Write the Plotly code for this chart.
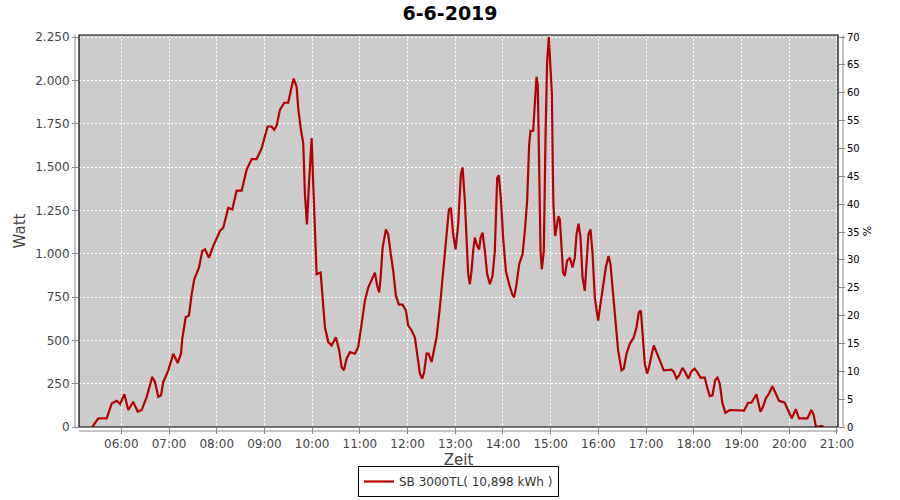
import pandas as pd
import plotly.graph_objects as go

# Time of day (decimal hours) and power (W)
hours = [5.392, 5.518, 5.694, 5.799, 5.904, 5.973, 6.063, 6.147, 6.251, 6.344, 6.427, 6.532,
         6.649, 6.706, 6.775, 6.832, 6.880, 6.985, 7.089, 7.182, 7.251, 7.278, 7.349, 7.418,
         7.475, 7.529, 7.628, 7.697, 7.754, 7.837, 7.928, 8.068, 8.137, 8.242, 8.326, 8.418,
         8.523, 8.627, 8.732, 8.837, 8.942, 9.067, 9.151, 9.206, 9.256, 9.325, 9.415, 9.499,
         9.555, 9.612, 9.675, 9.708, 9.765, 9.813, 9.849, 9.891, 9.933, 9.989, 10.023, 10.058,
         10.094, 10.178, 10.232, 10.268, 10.337, 10.408, 10.498, 10.567, 10.618, 10.666, 10.722,
         10.792, 10.896, 10.965, 11.037, 11.106, 11.175, 11.246, 11.315, 11.363, 11.405, 11.435,
         11.477, 11.546, 11.594, 11.644, 11.699, 11.755, 11.818, 11.896, 11.965, 12.013, 12.084,
         12.153, 12.202, 12.258, 12.306, 12.348, 12.398, 12.440, 12.503, 12.551, 12.608, 12.677,
         12.761, 12.817, 12.866, 12.908, 12.956, 13.006, 13.061, 13.117, 13.153, 13.201, 13.236,
         13.270, 13.306, 13.341, 13.375, 13.410, 13.459, 13.501, 13.530, 13.572, 13.620, 13.668,
         13.725, 13.781, 13.829, 13.878, 13.913, 13.955, 14.003, 14.060, 14.129, 14.192, 14.234,
         14.284, 14.339, 14.410, 14.458, 14.506, 14.548, 14.577, 14.632, 14.667, 14.703, 14.730,
         14.757, 14.787, 14.814, 14.856, 14.892, 14.925, 14.961, 14.988, 15.024, 15.045, 15.057,
         15.093, 15.128, 15.162, 15.191, 15.227, 15.260, 15.296, 15.344, 15.401, 15.457, 15.505,
         15.541, 15.583, 15.625, 15.667, 15.715, 15.750, 15.792, 15.834, 15.876, 15.924, 15.994,
         16.044, 16.098, 16.155, 16.211, 16.253, 16.308, 16.365, 16.413, 16.484, 16.532, 16.589,
         16.658, 16.742, 16.798, 16.847, 16.889, 16.924, 16.972, 17.020, 17.062, 17.113, 17.161,
         17.217, 17.286, 17.370, 17.531, 17.579, 17.636, 17.691, 17.762, 17.816, 17.887, 17.942,
         18.013, 18.068, 18.139, 18.229, 18.277, 18.334, 18.391, 18.445, 18.495, 18.544, 18.600,
         18.663, 18.753, 18.893, 19.053, 19.136, 19.207, 19.312, 19.396, 19.450, 19.507, 19.576,
         19.647, 19.717, 19.786, 19.905, 19.974, 20.052, 20.135, 20.205, 20.381, 20.465, 20.513,
         20.555, 20.597, 20.674, 20.722]

watts = [0, 50, 50, 136, 151, 132, 189, 98, 145, 88, 98, 174,
         289, 260, 174, 183, 260, 327, 423, 369, 423, 509, 633, 643,
         767, 853, 920, 1016, 1025, 977, 1045, 1131, 1150, 1265, 1255, 1364,
         1364, 1485, 1546, 1546, 1609, 1734, 1734, 1715, 1740, 1830, 1871, 1871,
         1945, 2011, 1963, 1839, 1715, 1638, 1342, 1169, 1399, 1667, 1399, 1093,
         882, 891, 691, 576, 490, 471, 518, 442, 346, 327, 394,
         432, 423, 461, 595, 729, 805, 853, 891, 815, 777, 862,
         1035, 1140, 1112, 1006, 901, 758, 706, 706, 672, 586, 557,
         518, 423, 308, 279, 317, 423, 423, 375, 432, 518, 691,
         939, 1131, 1255, 1265, 1112, 1025, 1169, 1456, 1498, 1303, 1073,
         882, 824, 901, 1016, 1093, 1045, 1025, 1093, 1121, 1016, 882,
         824, 872, 1016, 1437, 1452, 1322, 1093, 901, 824, 767, 748,
         824, 939, 997, 1131, 1303, 1628, 1709, 1709, 1839, 2021, 1972,
         1475, 1016, 911, 1016, 1686, 2107, 2250, 2126, 1925, 1475, 1284,
         1102, 1150, 1217, 1198, 1035, 891, 872, 959, 977, 920, 977,
         1112, 1173, 1093, 863, 786, 939, 1112, 1140, 1006, 748, 614,
         710, 824, 920, 987, 939, 767, 595, 442, 327, 337, 423,
         480, 518, 576, 662, 672, 547, 366, 308, 346, 413, 471,
         432, 385, 327, 331, 318, 279, 298, 341, 318, 279, 318,
         337, 318, 285, 285, 231, 178, 183, 270, 285, 250, 136,
         82, 98, 98, 94, 140, 140, 189, 88, 117, 165, 193,
         235, 193, 151, 140, 98, 50, 103, 50, 50, 98, 69,
         6, 0, 6, 0]

day = "2019-06-06"
series_name = "SB 3000TL( 10,898 kWh )"
title_text = "6-6-2019"

times = pd.Timestamp(day) + pd.to_timedelta(hours, unit="h")

fig = go.Figure()
fig.add_trace(go.Scatter(
    x=times, y=watts, mode="lines", name=series_name,
    line=dict(color="#b40000", width=2.2),
))
# helper trace so the secondary (%) axis is drawn
fig.add_trace(go.Scatter(
    x=[times[0]], y=[0], mode="lines", yaxis="y2", showlegend=False,
    line=dict(width=0), hoverinfo="skip",
))

ytop = 2262
x0 = pd.Timestamp(day) + pd.Timedelta(hours=5, minutes=6.8)
x1 = pd.Timestamp(day) + pd.Timedelta(hours=21, minutes=1.3)

tickfont = dict(family="DejaVu Sans", size=12, color="#444444")

W, H = 900, 500
ml, mt, mr, mb = 79, 35, 62, 73
pw, ph = W - ml - mr, H - mt - mb

fig.update_layout(
    width=W, height=H,
    margin=dict(l=ml, r=mr, t=mt, b=mb, autoexpand=False),
    paper_bgcolor="white", plot_bgcolor="#cccccc",
    separators=",.",
    title=dict(text="<b>" + title_text + "</b>", x=0.5, xanchor="center", y=1 - 13.7 / H, yanchor="middle",
               font=dict(family="DejaVu Sans", size=19, color="black")),
    font=dict(family="DejaVu Sans", color="#444444"),
    showlegend=True,
    legend=dict(orientation="h", x=0.5, xanchor="center", y=-39.0 / ph, yanchor="top",
                bordercolor="black", borderwidth=1, bgcolor="white",
                font=dict(family="DejaVu Sans", size=12, color="#333333"),
                itemwidth=30),
    xaxis=dict(
        type="date", range=[x0, x1], dtick=3600000, tickformat="%H:%M",
        tick0=pd.Timestamp(day) + pd.Timedelta(hours=6),
        showgrid=True, gridcolor="white", griddash="2px,2px", gridwidth=1,
        ticks="outside", ticklen=6, tickcolor="#888888", automargin=False,
        tickfont=tickfont, zeroline=False, showline=False,
        title=dict(text="Zeit", font=dict(family="DejaVu Sans", size=15, color="#444444"), standoff=4),
    ),
    yaxis=dict(
        range=[0, ytop], dtick=250, tickformat=",d",
        showgrid=True, gridcolor="white", griddash="2px,2px", gridwidth=1,
        ticks="outside", ticklen=6, tickcolor="#888888", automargin=False,
        tickfont=tickfont, zeroline=False, showline=False,
        title=dict(text="Watt", font=dict(family="DejaVu Sans", size=15, color="#444444"), standoff=5),
    ),
    yaxis2=dict(
        overlaying="y", side="right", range=[0, ytop / 2250 * 70], dtick=5,
        showgrid=False, zeroline=False, showline=False, automargin=False,
        ticks="outside", ticklen=6, tickcolor="#888888",
        tickfont=dict(family="DejaVu Sans", size=10, color="black"),
        title=dict(text="%", font=dict(family="DejaVu Sans", size=11, color="black"), standoff=4),
    ),
)

shapes = [
    dict(type="rect", xref="paper", yref="paper", x0=0, x1=1, y0=0, y1=1,
         line=dict(color="black", width=1.2), fillcolor="rgba(0,0,0,0)", layer="above"),
    dict(type="line", xref="paper", yref="paper", x0=-4 / pw, x1=-4 / pw, y0=0, y1=1,
         line=dict(color="#888888", width=1)),
    dict(type="line", xref="paper", yref="paper", x0=0, x1=1, y0=-4 / ph, y1=-4 / ph,
         line=dict(color="#888888", width=1)),
    dict(type="line", xref="paper", yref="paper", x0=1 + 5 / pw, x1=1 + 5 / pw, y0=0, y1=1,
         line=dict(color="#888888", width=1)),
]
fig.update_layout(shapes=shapes)

fig.write_html(
    "out.html",
    config={"displayModeBar": False},
    post_script="document.body.style.margin='0';document.body.style.overflow='hidden';",
)
